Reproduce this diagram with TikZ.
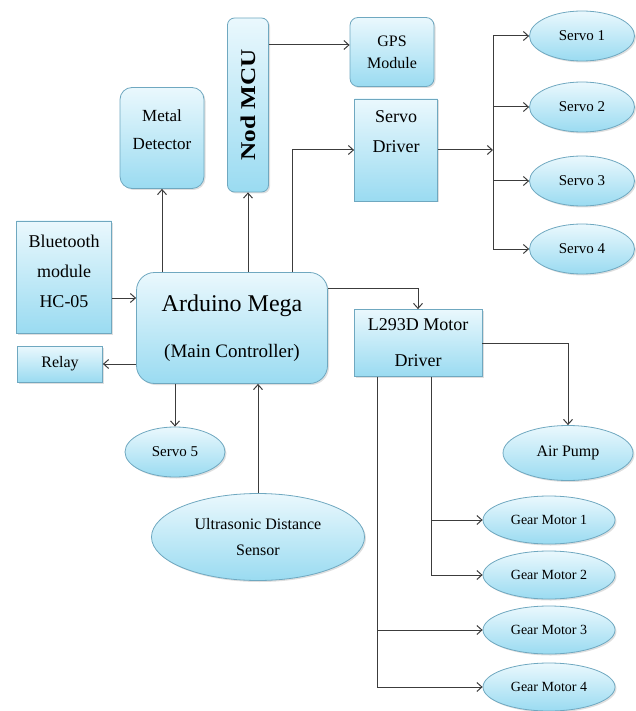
\documentclass[tikz,border=0pt]{standalone}
\usepackage{fontspec}
\setmainfont{Liberation Serif}
\usepackage{graphicx}
\usepackage{tikz}
\usetikzlibrary{arrows.meta,positioning,shapes.geometric,shadows,calc}
\definecolor{boxline}{HTML}{6FA8C0}
\definecolor{boxtop}{HTML}{EAF8FD}
\definecolor{boxbot}{HTML}{9ADBF1}
\definecolor{wirecol}{HTML}{3C3C3C}

\begin{document}
\begin{tikzpicture}[x=1pt,y=-1pt,
			blk/.style={draw=boxline,line width=0.8pt,top color=boxtop,bottom color=boxbot,
					align=center,inner sep=2pt,font=\fontsize{16}{22}\selectfont,
					drop shadow={shadow xshift=1.5pt,shadow yshift=-1.5pt,opacity=.25}},
			rblk/.style={blk,rounded corners=12pt},
			oval/.style={blk,ellipse,inner sep=0pt},
			arr/.style={draw=wirecol,line width=1pt,-{Straight Barb[length=5pt,width=9pt]}},
			wire/.style={draw=wirecol,line width=1pt},
		]
		\useasboundingbox (0,0) rectangle (635,711);
		% top row
		\node[rblk,minimum width=84pt,minimum height=101pt,font=\fontsize{17}{28}\selectfont] (met) at (162,138) {Metal\\Detector\\[-12pt]\mbox{}};
		\node[rblk,rounded corners=7pt,minimum width=41pt,minimum height=174pt,
			font=\fontsize{21}{22}\selectfont\bfseries] (nod) at (248,105) {\rotatebox{90}{\scalebox{1.2}[1]{Nod MCU}}};
		\node[rblk,rounded corners=8pt,minimum width=84pt,minimum height=69pt] (gps) at (392,52) {GPS\\Module};
		\node[blk,minimum width=83pt,minimum height=102pt,font=\fontsize{18}{30}\selectfont] (sd) at (396,150) {Servo\\Driver\\[6pt]\mbox{}};
		\foreach \i/\y in {1/36,2/107,3/181,4/249}
		\node[oval,minimum width=105pt,minimum height=50pt,font=\fontsize{15}{18}\selectfont] (s\i) at (582,\y) {Servo \i};
		% controller and its neighbours
		\node[blk,minimum width=95pt,minimum height=112pt,font=\fontsize{18}{30}\selectfont] (bt) at (64,277) {Bluetooth\\module\\HC-05\\[-18pt]\mbox{}};
		\node[rblk,rounded corners=18pt,minimum width=191pt,minimum height=111pt] (ard) at (232,328)
		{\fontsize{24}{30}\selectfont Arduino Mega\\[24pt]\fontsize{19}{24}\selectfont (Main Controller)};
		\node[blk,minimum width=85pt,minimum height=36pt] (rel) at (60,364) {Relay};
		\node[oval,minimum width=100pt,minimum height=50pt,font=\fontsize{15}{18}\selectfont] (s5) at (175,452) {Servo 5};
		\node[oval,minimum width=213pt,minimum height=87pt,font=\fontsize{16}{26}\selectfont] (us) at (258,537) {Ultrasonic Distance\\Sensor};
		% motor side
		\node[blk,minimum width=128pt,minimum height=67pt,font=\fontsize{18}{36}\selectfont] (mot) at (418,343) {L293D Motor\\Driver};
		\node[oval,minimum width=130pt,minimum height=55pt] (air) at (568,453) {Air Pump};
		\foreach \i/\y in {1/520,2/575,3/630,4/687}
		\node[oval,minimum width=132pt,minimum height=48pt,font=\fontsize{14}{16}\selectfont] (gm\i) at (549,\y) {Gear Motor \i};

		% connectors
		\coordinate (gpsin) at ([yshift=7pt]gps.west);
		\coordinate (sdj) at (292,150);
		\coordinate (sbr) at (493,150);
		\coordinate (btout) at ([yshift=-21pt]bt.east);
		\coordinate (ardout) at ([yshift=40pt]ard.east);
		\coordinate (tapA) at (431,0);
		\coordinate (tapB) at (377,0);

		\draw[arr] (ard.north -| met.south) -- (met.south);
		\draw[arr] (ard.north -| nod.south) -- (nod.south);
		\draw[arr] (nod.east |- gpsin) -- (gpsin);
		\draw[arr] (ard.north -| sdj) |- (sd.west);
		\draw[arr] (sd.east) -- (sbr);
		\draw[wire] (sbr |- s1) -- (sbr |- s4);
		\foreach \i in {1,...,4}
		\draw[arr] (sbr |- s\i) -- (s\i.west);
		\draw[arr] (btout) -- (btout -| ard.west);
		\draw[arr] (ard.west |- rel.east) -- (rel.east);
		\draw[arr] (ard.south -| s5.north) -- (s5.north);
		\draw[arr] (us.north) -- (us.north |- ard.south);
		\draw[arr] (ardout) -| (mot.north);
		\draw[arr] (mot.east) -| (air.north);
		\draw[wire] (mot.south -| tapA) -- (tapA |- gm2);
		\draw[wire] (mot.south -| tapB) -- (tapB |- gm4);
		\foreach \i in {1,2}
		\draw[arr] (tapA |- gm\i) -- (gm\i.west);
		\foreach \i in {3,4}
		\draw[arr] (tapB |- gm\i) -- (gm\i.west);
	\end{tikzpicture}
\end{document}
